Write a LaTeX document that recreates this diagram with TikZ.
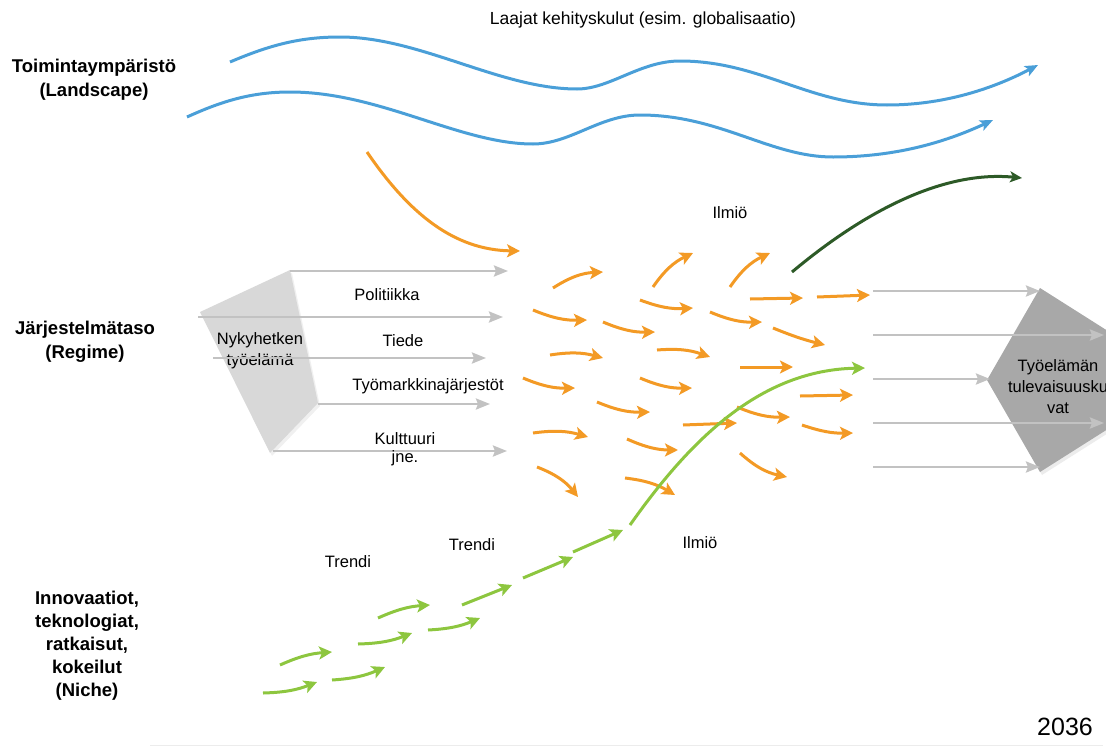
\documentclass[tikz,border=0pt]{standalone}
\usepackage{fontspec}
\setmainfont{Liberation Sans}
\usepackage{tikz}
\usetikzlibrary{arrows.meta,shadows}
\definecolor{tvblue}{HTML}{4A9FD8}
\definecolor{tvorange}{HTML}{F39A25}
\definecolor{tvgreen}{HTML}{8DC63F}
\definecolor{tvdark}{HTML}{2D5A27}
\definecolor{tvgray}{HTML}{C2C2C2}
\definecolor{tvshape}{HTML}{A8A8A8}
\definecolor{tvlight}{HTML}{D8D8D8}
\tikzset{
  wavearr/.style ={tvblue, line width=3pt, -{Stealth[length=13pt,width=11pt,inset=3pt]}},
  flowarr/.style ={tvgray, line width=2.6pt, -{Stealth[length=14pt,width=11pt,inset=2pt]}},
  phenarr/.style ={tvorange, line width=3pt, -{Stealth[length=13pt,width=13pt,inset=3pt]}},
  trendarr/.style={tvgreen, line width=3pt, -{Stealth[length=13pt,width=13pt,inset=3pt]}},
  tier/.style    ={font=\fontsize{18.5}{24}\selectfont\bfseries, align=center, inner sep=1pt},
  lbl/.style     ={font=\fontsize{16.5}{21}\selectfont, align=center, inner sep=1pt},
}

\begin{document}
\begin{tikzpicture}[x=1pt,y=-1pt]
  \useasboundingbox (0,0) rectangle (1106,747);
  % shapes of today and of the future
  \fill[tvlight, drop shadow={opacity=.12, shadow xshift=2pt, shadow yshift=-3pt}]
    (200,312) -- (290,270) -- (318,403) -- (270,453) -- cycle;
  \begin{scope}
    \clip (0,0) rectangle (1106,747);
    \fill[tvshape, drop shadow={opacity=.15, shadow xshift=2pt, shadow yshift=-3pt}]
      (1040,288) -- (1130,345) -- (1130,415) -- (1040,472) -- (987,380) -- cycle;
    \node[lbl] (future) at (1058,387) {Työelämän\\tulevaisuusku\\vat};
  \end{scope}
  \node[lbl] (today) at (260,351) {Nykyhetken\\työelämä};
  % regime flows
  \draw[flowarr] (290,271) -- (508,271);
  \draw[flowarr] (198,317) -- (503,317);
  \draw[flowarr] (213,358) -- (486,358);
  \draw[flowarr] (318,404) -- (490,404);
  \draw[flowarr] (273,451) -- (507,451);
  \foreach \yy/\xe in {291/1040,335/1104,379/990,423/1104,467/1040}
    \draw[flowarr] (873,\yy) -- (\xe,\yy);
  \node[lbl] (pol) at (387,295) {Politiikka};
  \node[lbl] (sci) at (403,341) {Tiede};
  \node[lbl] (lab) at (428,386) {Työmarkkinajärjestöt};
  \node[lbl, font=\fontsize{16.5}{18}\selectfont] (cul) at (405,449) {Kulttuuri\\jne.};
  % landscape waves
  \draw[wavearr] (230,62) .. controls (270,45) and (300,37) .. (340,37)
    .. controls (420,37) and (500,89) .. (577,89)
    .. controls (610,89) and (640,61) .. (680,61)
    .. controls (760,61) and (810,105) .. (887,105)
    .. controls (950,105) and (1000,85) .. (1038,65);
  \draw[wavearr] (187,117) .. controls (220,102) and (250,92) .. (290,92)
    .. controls (380,92) and (460,144) .. (533,144)
    .. controls (570,144) and (600,115) .. (640,115)
    .. controls (720,115) and (770,157) .. (833,157)
    .. controls (900,157) and (950,140) .. (993,120);
  \node[lbl, font=\fontsize{17.5}{21}\selectfont] (top) at (643,20) {Laajat kehityskulut (esim. globalisaatio)};
  % phenomena
  \draw[phenarr] (367,152) .. controls (410,215) and (455,250) .. (520,251);
  \foreach \xa/\ya/\xb/\yb/\bb in {553/288/603/272/15, 653/287/693/253/15,
      730/287/770/253/15, 533/310/587/320/-12, 640/300/693/308/-12,
      750/299/803/298/0, 817/297/870/295/0, 603/322/655/332/-12,
      710/312/762/322/-12, 773/328/825/345/-4, 550/355/603/358/12,
      657/350/710/357/12, 740/367/793/367/0, 523/378/575/388/-12,
      640/378/692/388/-12, 800/396/853/395/0, 597/402/650/412/-12,
      737/407/790/417/-12, 683/425/737/423/0, 533/433/588/437/12,
      627/439/678/450/-12, 802/425/853/433/-10, 537/467/578/497/15,
      625/478/675/495/12, 740/453/787/477/-15}
    \draw[phenarr] (\xa,\ya) to[bend left=\bb] (\xb,\yb);
  \draw[tvdark, line width=3pt, -{Stealth[length=12pt,width=11pt,inset=3pt]}]
    (792,272) .. controls (860,215) and (940,170) .. (1022,178);
  \node[lbl] (ilm1) at (730,213) {Ilmiö};
  % niche trends
  \foreach \xa/\ya/\xb/\yb/\bb in {263/693/317/682/-10, 280/665/332/652/10,
      332/680/385/667/-10, 358/644/412/633/-10, 378/618/430/605/10,
      428/630/480/618/-10, 462/605/512/585/0, 523/578/573/557/0,
      573/552/623/530/0}
    \draw[trendarr] (\xa,\ya) to[bend left=\bb] (\xb,\yb);
  \draw[trendarr] (630,525) .. controls (690,440) and (760,370) .. (865,368);
  \node[lbl] (tr1) at (348,562) {Trendi};
  \node[lbl] (tr2) at (472,545) {Trendi};
  \node[lbl] (ilm2) at (700,543) {Ilmiö};
  % levels
  \node[tier] (land) at (94,80) {Toimintaympäristö\\(Landscape)};
  \node[tier] (reg) at (85,342) {Järjestelmätaso\\(Regime)};
  \node[tier, font=\fontsize{18.5}{23}\selectfont\bfseries] (niche) at (87,646)
    {Innovaatiot,\\teknologiat,\\ratkaisut,\\kokeilut\\(Niche)};
  \node[font=\fontsize{25}{28}\selectfont, inner sep=1pt] (year) at (1065,727) {2036};
  \draw[gray!15, line width=1pt] (150,745) -- (1103,745);
\end{tikzpicture}
\end{document}
